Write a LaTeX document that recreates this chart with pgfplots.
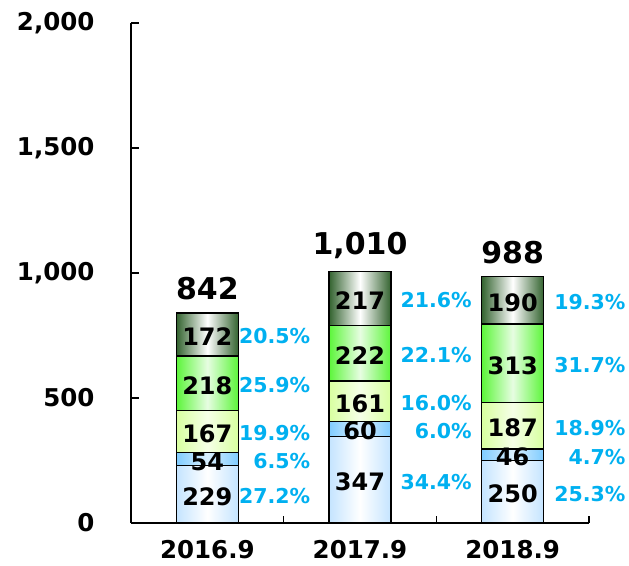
\documentclass[border=0pt]{standalone}
\usepackage{pgfplots}
\pgfplotsset{compat=1.18}
\usepackage{pgfplotstable}
\usepackage{fontspec}
\setmainfont{DejaVu Sans}

\definecolor{sA}{HTML}{C4E4FF}
\definecolor{sB}{HTML}{80CCFF}
\definecolor{sC}{HTML}{D8FFA0}
\definecolor{sD}{HTML}{5CF53A}
\definecolor{sE}{HTML}{33632F}
\definecolor{pct}{HTML}{00B0F0}

% stacked values per year
\pgfplotstableread{
x  a   b   c   d   e
0  229 54  167 218 172
1  347 60  161 222 217
2  250 46  187 313 190
}\stackdata

% label positions (segment middles)
\pgfplotstableread{
x  xp     y      v    p
0  0.675  114.5  229  27.2\%
0  0.675  256    54   6.5\%
0  0.675  366.5  167  19.9\%
0  0.675  559    218  25.9\%
0  0.675  754    172  20.5\%
1  1.733  173.5  347  34.4\%
1  1.733  377    60   6.0\%
1  1.733  487.5  161  16.0\%
1  1.733  679    222  22.1\%
1  1.733  901.5  217  21.6\%
2  2.74   125    250  25.3\%
2  2.74   273    46   4.7\%
2  2.74   389.5  187  18.9\%
2  2.74   639.5  313  31.7\%
2  2.74   891    190  19.3\%
}\labeldata

\pgfplotstableread{
x  y     t
0  842   842
1  1010  {1,010}
2  988   988
}\totaldata

\pgfplotsset{
  common/.style={
    at={(0pt,0pt)}, anchor=south west,
    scale only axis, width=458pt, height=500pt,
    xmin=-0.5, xmax=2.5, ymin=0, ymax=2000,
    clip=false,
  },
  seg/.style n args={2}{draw=black, line width=1.2pt,
    left color=#1, right color=#1, middle color=#2},
}

% one axis per year, so that each bar gets its own shading
\newcommand\yearbars[1]{%
\begin{axis}[common, hide axis, ybar stacked, bar width=62pt,
  restrict x to domain=#1:#1]
\addplot[seg={sA}{white}] table[x=x,y=a]{\stackdata};
\addplot[seg={sB}{sB!30!white}] table[x=x,y=b]{\stackdata};
\addplot[seg={sC}{sC!25!white}] table[x=x,y=c]{\stackdata};
\addplot[seg={sD}{sD!15!white}] table[x=x,y=d]{\stackdata};
\addplot[seg={sE}{white}] table[x=x,y=e]{\stackdata};
\end{axis}}

\begin{document}
\begin{tikzpicture}
\path[use as bounding box] (-131pt,-42pt) rectangle (498pt,523pt);
\yearbars{0}
\yearbars{1}
\yearbars{2}

\begin{axis}[common,
  axis x line*=bottom, axis y line*=left,
  axis line style={line width=2pt},
  xtick={0,1,2}, xticklabels={2016.9,2017.9,2018.9},
  major x tick style={draw=none},
  minor xtick={0.5,1.5,2.5},
  minor tick length=7pt,
  minor x tick style={line width=1.5pt, black},
  ytick={0,500,...,2000},
  tick align=inside,
  major tick length=8pt,
  major y tick style={line width=1.5pt, black},
  /pgf/number format/assume math mode=true,
  /pgf/number format/1000 sep={,},
  yticklabel style={font=\fontsize{24.5}{24.5}\selectfont\bfseries, xshift=-33pt},
  xticklabel style={font=\fontsize{24.5}{24.5}\selectfont\bfseries, yshift=-14pt},
]
\addplot[draw=none] coordinates {(0,0)};
\end{axis}

\begin{axis}[common, hide axis]
\addplot[draw=none, nodes near coords, point meta=explicit symbolic,
  every node near coord/.style={anchor=center, yshift=-2.5pt, font=\fontsize{24}{24}\selectfont\bfseries, text=black, inner sep=0pt}]
  table[x=x, y=y, meta=v]{\labeldata};
\addplot[draw=none, nodes near coords, point meta=explicit symbolic,
  every node near coord/.style={anchor=east, yshift=-2pt, font=\fontsize{20.5}{20.5}\selectfont\bfseries, text=pct, inner sep=0pt}]
  table[x=xp, y=y, meta=p]{\labeldata};
\addplot[draw=none, nodes near coords, point meta=explicit symbolic,
  every node near coord/.style={anchor=south, yshift=12pt, font=\fontsize{30}{30}\selectfont\bfseries, text=black, inner sep=0pt}]
  table[x=x, y=y, meta=t]{\totaldata};
\end{axis}
\end{tikzpicture}
\end{document}
